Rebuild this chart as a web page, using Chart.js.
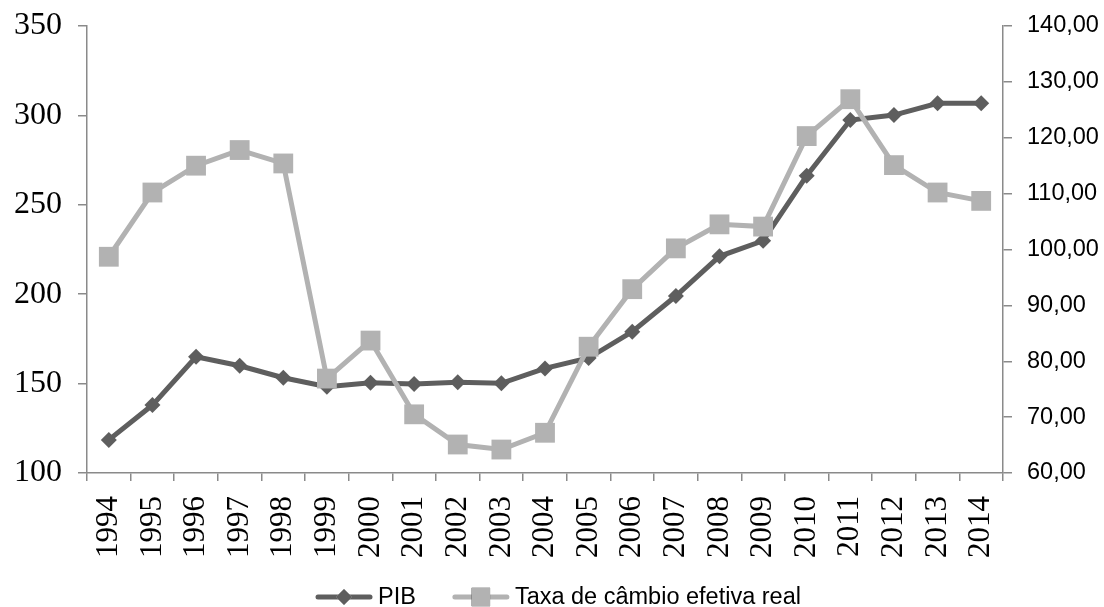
<!DOCTYPE html>
<html>
<head>
<meta charset="utf-8">
<script src="https://cdn.jsdelivr.net/npm/chart.js@4/dist/chart.umd.min.js"></script>
<style>
  html, body { margin: 0; padding: 0; background: #ffffff; }
  #wrap { width: 1104px; height: 607px; position: relative; }
</style>
</head>
<body>
<div id="wrap"><canvas id="chart"></canvas></div>
<script>
// Years on the category axis
const years = ['1994','1995','1996','1997','1998','1999','2000','2001','2002','2003','2004',
               '2005','2006','2007','2008','2009','2010','2011','2012','2013','2014'];

// PIB (left axis)
const pib = [118.5, 138.0, 165.0, 160.0, 153.3, 148.3, 150.5, 149.8, 150.7, 150.2, 158.5,
             164.3, 179.0, 199.0, 221.2, 229.9, 266.3, 297.4, 300.2, 306.8, 306.8];

// Taxa de câmbio efetiva real (right axis)
const cambio = [98.7, 110.2, 115.0, 117.8, 115.4, 76.9, 83.7, 70.5, 65.1, 64.2, 67.2,
                82.6, 92.9, 100.2, 104.5, 104.1, 120.3, 126.9, 115.1, 110.2, 108.7];

// Axis ranges
const leftTicks = [100, 150, 200, 250, 300, 350];
const rightTicks = [60, 70, 80, 90, 100, 110, 120, 130, 140];

const DARK = '#5e5e5e';
const LIGHT = '#b2b2b2';
const AXIS = '#8a8a8a';
const SERIF = '"Liberation Serif", "Times New Roman", serif';
const SANS = '"Liberation Sans", Arial, sans-serif';

// Legend drawn as line + marker + label, centred under the chart
const lineLegend = {
  id: 'lineLegend',
  afterDraw(chart) {
    const ctx = chart.ctx;
    const items = chart.data.datasets.map(ds => ({
      text: ds.label, color: ds.borderColor, style: ds.pointStyle, r: ds.legendRadius
    }));
    const lineLen = 56, gapText = 6, gapItems = 37;
    ctx.save();
    ctx.font = '23.5px ' + SANS;
    const widths = items.map(it => lineLen + gapText + ctx.measureText(it.text).width);
    const total = widths.reduce((a, b) => a + b, 0) + gapItems * (items.length - 1);
    let x = Math.round((chart.width - total) / 2) + 6;
    const y = 597;
    items.forEach((it, i) => {
      ctx.strokeStyle = it.color;
      ctx.lineWidth = 5;
      ctx.lineCap = 'round';
      ctx.beginPath();
      ctx.moveTo(x + 2, y);
      ctx.lineTo(x + lineLen - 2, y);
      ctx.stroke();
      Chart.helpers.drawPoint(ctx, {
        pointStyle: it.style, radius: it.r, borderWidth: 0
      }, x + lineLen / 2, y);
      ctx.fillStyle = it.color;
      ctx.fill();
      ctx.fillStyle = '#000000';
      ctx.textBaseline = 'middle';
      ctx.textAlign = 'left';
      ctx.fillText(it.text, x + lineLen + gapText, y + 1);
      x += widths[i] + gapItems;
    });
    ctx.restore();
  }
};

// Vertical axes: fixed widths, no extra top/bottom room for end labels
function fixVertical(width) {
  return function (scale) {
    scale.width = width;
    scale.paddingTop = 0;
    scale.paddingBottom = 0;
  };
}

new Chart(document.getElementById('chart'), {
  type: 'line',
  data: {
    labels: years,
    datasets: [
      {
        label: 'PIB',
        data: pib,
        yAxisID: 'y',
        borderColor: DARK,
        backgroundColor: DARK,
        borderWidth: 5,
        pointStyle: 'rectRot',
        pointRadius: 8,
        pointBorderWidth: 0,
        legendRadius: 8,
        tension: 0,
        order: 2,
        clip: false
      },
      {
        label: 'Taxa de câmbio efetiva real',
        data: cambio,
        yAxisID: 'y2',
        borderColor: LIGHT,
        backgroundColor: LIGHT,
        borderWidth: 5,
        pointStyle: 'rect',
        pointRadius: 14,
        pointBorderWidth: 0,
        legendRadius: 13,
        tension: 0,
        order: 1,
        clip: false
      }
    ]
  },
  options: {
    responsive: true,
    maintainAspectRatio: false,
    animation: false,
    layout: { padding: { top: 26, left: 0, right: 0, bottom: 0 } },
    plugins: {
      legend: { display: false },
      tooltip: { enabled: false }
    },
    scales: {
      x: {
        offset: true,
        grid: {
          offset: true,
          drawOnChartArea: false,
          drawTicks: true,
          tickLength: 8,
          color: AXIS,
          lineWidth: 1.5
        },
        border: { color: AXIS, width: 1.5 },
        ticks: {
          color: '#000000',
          font: { family: SERIF, size: 31 },
          minRotation: 90,
          maxRotation: 90,
          padding: 15,
          autoSkip: false
        },
        afterFit(scale) {
          scale.height = 134;
          scale.paddingLeft = 0;
          scale.paddingRight = 0;
        }
      },
      y: {
        position: 'left',
        min: leftTicks[0],
        max: leftTicks[leftTicks.length - 1],
        afterBuildTicks(scale) { scale.ticks = leftTicks.map(v => ({ value: v })); },
        grid: {
          drawOnChartArea: false,
          tickLength: 9,
          color: AXIS,
          lineWidth: 1.5
        },
        border: { color: AXIS, width: 1.5 },
        ticks: {
          color: '#000000',
          font: { family: SERIF, size: 32 },
          padding: 16
        },
        afterFit: fixVertical(87)
      },
      y2: {
        position: 'right',
        min: rightTicks[0],
        max: rightTicks[rightTicks.length - 1],
        afterBuildTicks(scale) { scale.ticks = rightTicks.map(v => ({ value: v })); },
        grid: {
          drawOnChartArea: false,
          tickLength: 9,
          color: AXIS,
          lineWidth: 1.5
        },
        border: { color: AXIS, width: 1.5 },
        ticks: {
          color: '#000000',
          font: { family: SANS, size: 23.5 },
          padding: 15,
          callback: v => v.toFixed(2).replace('.', ',')
        },
        afterFit: fixVertical(101)
      }
    }
  },
  plugins: [lineLegend]
});
</script>
</body>
</html>
